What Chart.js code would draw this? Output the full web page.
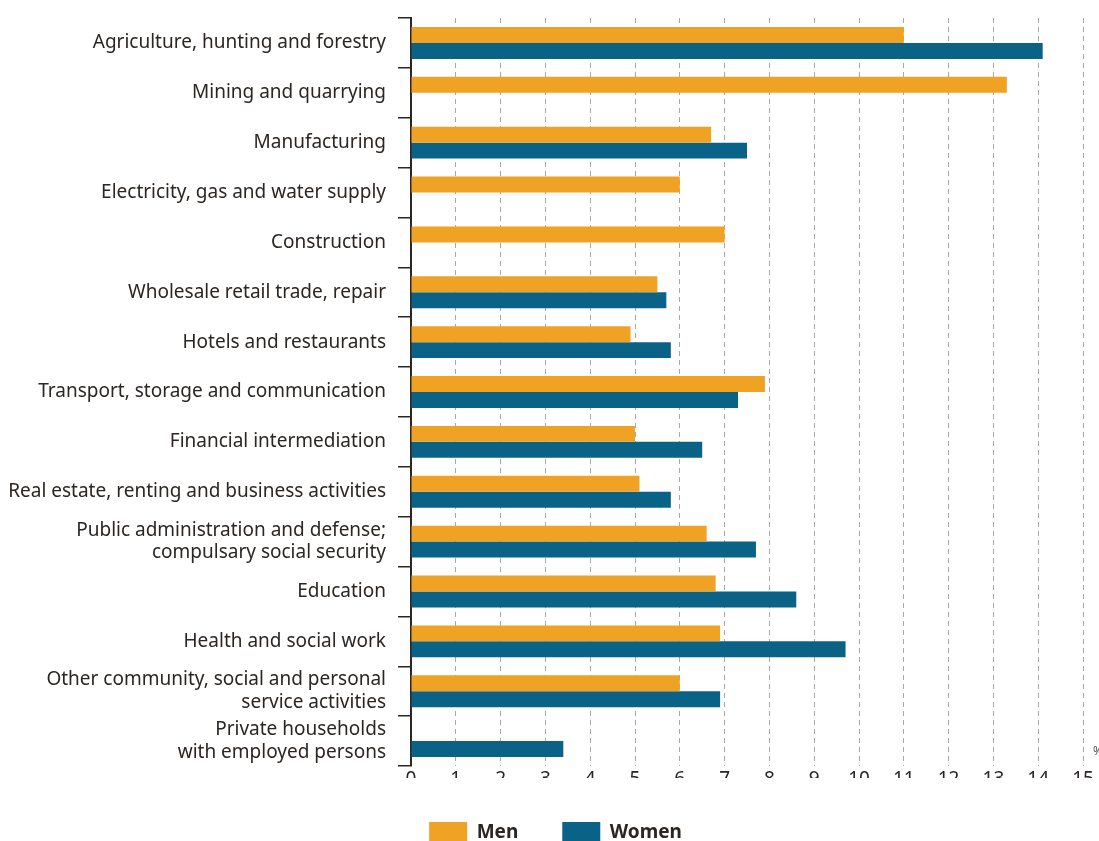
<!DOCTYPE html>
<html>
<head>
<meta charset="utf-8">
<script src="https://cdn.jsdelivr.net/npm/chart.js@4/dist/chart.umd.min.js"></script>
<style>
  body { margin: 0; background: #fff; }
  #wrap { width: 1099px; height: 841px; }
</style>
</head>
<body>
<div id="wrap"><canvas id="bars"></canvas></div>
<script>
const sectors = [
    'Agriculture, hunting and forestry',
    'Mining and quarrying',
    'Manufacturing',
    'Electricity, gas and water supply',
    'Construction',
    'Wholesale retail trade, repair',
    'Hotels and restaurants',
    'Transport, storage and communication',
    'Financial intermediation',
    'Real estate, renting and business activities',
    ['Public administration and defense;', 'compulsary social security'],
    'Education',
    'Health and social work',
    ['Other community, social and personal', 'service activities'],
    ['Private households', 'with employed persons']
];
const men = [11.0, 13.3, 6.7, 6.0, 7.0, 5.5, 4.9, 7.9, 5.0, 5.1, 6.6, 6.8, 6.9, 6.0, null];
const women = [14.1, null, 7.5, null, null, 5.7, 5.8, 7.3, 6.5, 5.8, 7.7, 8.6, 9.7, 6.9, 3.4];
const xTicks = [0, 15];

const ink = '#2b2622';
const fontFam = '"Noto Sans", sans-serif';

// small % mark at the end of the axis
const unitMark = {
    id: 'unitMark',
    afterDraw(chart) {
        const c = chart.ctx;
        const a = chart.chartArea;
        c.save();
        c.fillStyle = '#555';
        c.font = '12px ' + fontFam;
        c.textAlign = 'left';
        c.textBaseline = 'bottom';
        c.fillText('%', a.right + 10, a.bottom - 8);
        c.restore();
    }
};

// legend sits lower than its padding would allow, so fix its box height
const legendBox = {
    id: 'legendBox',
    beforeLayout(chart) {
        const lg = chart.legend;
        if (!lg || lg._patched) return;
        const fit = lg.fit.bind(lg);
        lg.fit = function () {
            fit();
            this.height = 63;
        };
        lg._patched = true;
    },
    afterLayout(chart) {
        chart.legend.left += 28;
    }
};

const ctx = document.getElementById('bars').getContext('2d');
const barchart = new Chart(ctx, {
    type: 'bar',
    data: {
        labels: sectors,
        datasets: [{
            label: 'Men',
            data: men,
            backgroundColor: '#f0a224',
            borderWidth: 0
        }, {
            label: 'Women',
            data: women,
            backgroundColor: '#0b6287',
            borderWidth: 0
        }]
    },
    options: {
        indexAxis: 'y',
        responsive: true,
        maintainAspectRatio: false,
        animation: false,
        datasets: {
            bar: { categoryPercentage: 0.64, barPercentage: 1.0 }
        },
        layout: { padding: { top: 18, right: 16, left: 0, bottom: 0 } },
        scales: {
            x: {
                min: xTicks[0],
                max: xTicks[1],
                ticks: {
                    stepSize: 1,
                    color: ink,
                    font: { family: fontFam, size: 19 },
                    padding: 2
                },
                grid: {
                    color: '#a8a8a8',
                    lineWidth: 1,
                    drawTicks: false
                },
                border: { display: false, dash: [5, 4] },
                afterFit(scale) { scale.height = 12; }
            },
            y: {
                ticks: {
                    color: ink,
                    font: { family: fontFam, size: 19 },
                    padding: 12,
                    autoSkip: false
                },
                grid: {
                    drawOnChartArea: false,
                    color: ink,
                    lineWidth: 1.5,
                    tickLength: 13
                },
                border: { display: true, color: ink, width: 2 },
                afterFit(scale) {
                    scale.width = 411;
                    scale.paddingTop = 0;
                    scale.paddingBottom = 0;
                }
            }
        },
        plugins: {
            legend: {
                position: 'bottom',
                labels: {
                    boxWidth: 38,
                    boxHeight: 21,
                    padding: 44,
                    color: ink,
                    font: { family: fontFam, size: 19, weight: 'bold' }
                }
            },
            tooltip: { enabled: false }
        }
    },
    plugins: [unitMark, legendBox]
});
</script>
</body>
</html>
